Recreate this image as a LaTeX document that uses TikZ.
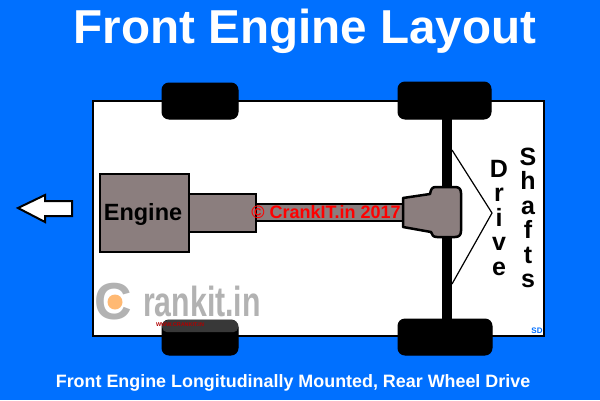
\documentclass[tikz,border=0pt]{standalone}
\usepackage{fontspec}
\setmainfont{Liberation Sans}
\usetikzlibrary{positioning}

\definecolor{skyblue}{HTML}{0070FF}
\definecolor{enginegrey}{HTML}{8B7E7E}

\begin{document}
\begin{tikzpicture}[
    x=1pt, y=-1pt,
    panel/.style={draw, line width=2.5pt, anchor=north west, inner sep=0pt, outer sep=0pt},
    tyre/.style={panel, fill=black, rounded corners=7pt, line width=1pt},
    metal/.style={panel, fill=enginegrey},
    shaftline/.style={line width=1.2pt},
    letters/.style={align=center, inner sep=0pt, font=\fontsize{25}{24.5}\selectfont\bfseries}
  ]
    \useasboundingbox (0,0) rectangle (600,400);
    \fill[skyblue] (0,0) rectangle (600,400);

    \node[panel, fill=white, minimum width=451pt, minimum height=235pt] (chassis) at (93,101) {};

    % wheels and axle
    \node[fill=black, anchor=north west, inner sep=0pt, outer sep=0pt, minimum width=10pt, minimum height=205pt] (axle) at (442,117) {};
    \node[tyre, minimum width=76pt, minimum height=36pt] (tyrefl) at (162,83) {};
    \node[tyre, minimum width=93pt, minimum height=37pt] (tyrefr) at (398,82) {};
    \node[tyre, minimum width=76pt, minimum height=35pt] (tyrerl) at (162,320) {};
    \node[tyre, minimum width=94pt, minimum height=36pt] (tyrerr) at (398,319) {};

    % watermark
    \node[fill=white, opacity=.22, rounded corners=5pt, anchor=north west, inner sep=0pt, minimum width=76pt, minimum height=12pt] (wmstrip) at (162,320) {};
    \node[text=black!30, font=\fontsize{52}{52}\selectfont\bfseries, inner sep=0pt, anchor=center] (wmc) at (113,302) {C};
    \node[circle, fill=orange!55, minimum size=15pt, inner sep=0pt] (wmgear) at (115,302) {};
    \node[text=black!30, font=\fontsize{42}{42}\selectfont\bfseries, inner sep=0pt, anchor=base west, transform shape, xscale=.72] (wmtext) at (143,316) {rankit.in};
    \node[text=red!70!black, font=\fontsize{5.5}{6}\selectfont\bfseries, inner sep=0pt] (wmurl) at (180,325) {WWW.CRANKIT.IN};

    % driveline
    \node[metal, minimum width=89pt, minimum height=78pt] (engine) at (100,174) {};
    \node[metal, minimum width=67pt, minimum height=38pt] (gearbox) at (189,194) {};
    \node[metal, minimum width=147pt, minimum height=17pt] (propshaft) at (256,204) {};
    \draw[metal, line width=2.5pt, line join=round] (403,198) -- (430,194)
      .. controls (431,189) and (432,187) .. (436,187) -- (455,187)
      .. controls (459,187) and (461,189) .. (461,193) -- (461,231)
      .. controls (461,235) and (459,237) .. (455,237) -- (437,237)
      .. controls (433,237) and (432,235) .. (431,232) -- (403,227) -- cycle;

    \node[font=\fontsize{23.5}{26}\selectfont\bfseries, inner sep=0pt] (enginelabel) at (143,214) {Engine};
    \node[text=red, font=\fontsize{18}{20}\selectfont\bfseries, inner sep=0pt] (copyright) at (326,212) {© CrankIT.in 2017};

    % direction of travel
    \draw[fill=white, line width=2pt] (18,208) -- (45,195) -- (45,201) -- (72,201) -- (72,216) -- (45,216) -- (45,222) -- cycle;

    % drive shafts
    \node[letters] (drive) at (499,218) {D\\r\\i\\v\\e};
    \node[letters] (shafts) at (528,218) {S\\h\\a\\f\\t\\s};
    \coordinate (apex) at (492,213);
    \coordinate (upper) at (452,150);
    \coordinate (lower) at (452,284);
    \draw[shaftline] (upper) -- (apex) -- (lower);

    \node[text=skyblue, font=\fontsize{8}{9}\selectfont\bfseries, inner sep=0pt] (sd) at (537,331) {SD};

    \node[text=white, font=\fontsize{47.6}{50}\selectfont\bfseries, inner sep=0pt] (title) at (305,31) {Front Engine Layout};
    \node[text=white, font=\fontsize{17.9}{20}\selectfont\bfseries, inner sep=0pt] (caption) at (293,383) {Front Engine Longitudinally Mounted, Rear Wheel Drive};
  \end{tikzpicture}
\end{document}
